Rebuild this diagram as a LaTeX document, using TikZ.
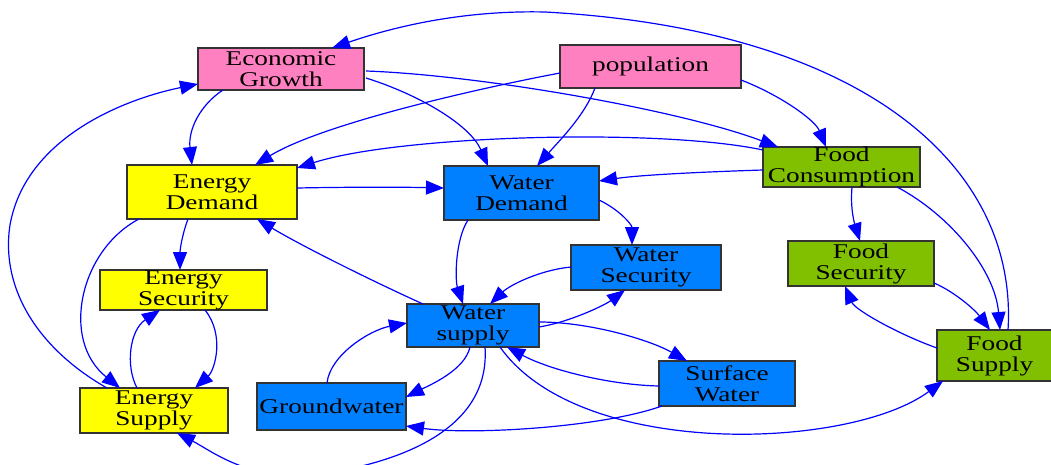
\documentclass[tikz,border=0pt]{standalone}
\usepackage{fontspec}
\setmainfont{Liberation Serif}[FakeStretch=1.3]
\usetikzlibrary{arrows.meta}
\definecolor{pinkc}{HTML}{FF80C0}
\definecolor{yellowc}{HTML}{FFFF00}
\definecolor{bluec}{HTML}{0080FF}
\definecolor{greenc}{HTML}{80C000}
\definecolor{edgec}{HTML}{0000FF}
\definecolor{borderc}{HTML}{333333}
\begin{document}
\begin{tikzpicture}[x=1pt,y=-1pt,
  box/.style={draw=borderc, line width=1.3pt, inner sep=0pt, align=center,
    font=\fontsize{21}{21}\selectfont},
  pinkbox/.style={box, fill=pinkc},
  yellowbox/.style={box, fill=yellowc},
  bluebox/.style={box, fill=bluec},
  greenbox/.style={box, fill=greenc},
  e/.style={draw=edgec, line width=1.2pt, -{Triangle[length=18pt,width=14pt]}}]
\useasboundingbox (0,0) rectangle (1051,465);
\clip (0,0) rectangle (1051,465);

% nodes
\node[pinkbox, minimum width=166pt, minimum height=42pt] (eg) at (281,69) {Economic\\Growth};
\node[pinkbox, minimum width=181pt, minimum height=43pt] (pop) at (650.5,66.5) {population};
\node[yellowbox, minimum width=170pt, minimum height=54pt] (ed) at (212,192) {Energy\\Demand};
\node[bluebox, minimum width=155pt, minimum height=54pt] (wd) at (521.5,193) {Water\\Demand};
\node[greenbox, minimum width=157pt, minimum height=40pt] (fc) at (841.5,167) {Food\\Consumption};
\node[bluebox, minimum width=150pt, minimum height=45pt] (wsec) at (646,267.5) {Water\\Security};
\node[yellowbox, minimum width=167pt, minimum height=40pt] (es) at (183.5,290) {Energy\\Security};
\node[greenbox, minimum width=146pt, minimum height=45pt] (fs) at (861,263.5) {Food\\Security};
\node[bluebox, minimum width=132pt, minimum height=43pt] (ws) at (473,325.5) {Water\\supply};
\node[bluebox, minimum width=149pt, minimum height=47pt] (gw) at (331.5,406.5) {Groundwater};
\node[yellowbox, minimum width=148pt, minimum height=45pt] (esup) at (154,410.5) {Energy\\Supply};
\node[bluebox, minimum width=136pt, minimum height=45pt] (sw) at (727,383.5) {Surface\\Water};
\node[greenbox, minimum width=115pt, minimum height=51pt] (fsup) at (994.5,355.5) {Food\\Supply};

\coordinate (lowA) at (315,475);
\coordinate (topA) at (545,12);
\coordinate (leftA) at (10,225);

% edges
\draw[e] ([shift={(-58,21)}]eg.center) .. controls (200,105) and (188,130) .. ([shift={(-20,-27)}]ed.center);
\draw[e] ([shift={(85,9)}]eg.center) .. controls (420,95) and (470,125) .. ([shift={(-33.5,-27)}]wd.center);
\draw[e] ([shift={(85,2)}]eg.center) .. controls (480,75) and (680,110) .. ([shift={(-63.5,-20)}]fc.center);
\draw[e] ([shift={(-90.5,6.5)}]pop.center) .. controls (470,90) and (320,125) .. ([shift={(43,-27)}]ed.center);
\draw[e] ([shift={(-55.5,21.5)}]pop.center) .. controls (585,115) and (560,140) .. ([shift={(15.5,-27)}]wd.center);
\draw[e] ([shift={(90.5,13.5)}]pop.center) .. controls (780,95) and (815,120) .. ([shift={(-15.5,-20)}]fc.center);
\draw[e] ([shift={(-78.5,-17)}]fc.center) .. controls (660,128) and (400,135) .. ([shift={(85,-24)}]ed.center);
\draw[e] ([shift={(-78.5,3)}]fc.center) .. controls (700,172) and (640,175) .. ([shift={(77.5,-12)}]wd.center);
\draw[e] ([shift={(10.5,20)}]fc.center) .. controls (850,210) and (855,225) .. ([shift={(-1,-22.5)}]fs.center);
\draw[e] ([shift={(55.5,20)}]fc.center) .. controls (950,215) and (995,270) .. ([shift={(5.5,-25.5)}]fsup.center);
\draw[e] ([shift={(85,-4)}]ed.center) .. controls (350,187) and (400,187) .. ([shift={(-77.5,-5)}]wd.center);
\draw[e] ([shift={(-24,27)}]ed.center) .. controls (182,235) and (180,250) .. ([shift={(-3.5,-20)}]es.center);
\draw[e] ([shift={(-73,27)}]ed.center) .. controls (80,250) and (60,340) .. ([shift={(-34,-22.5)}]esup.center);
\draw[e] ([shift={(-50,-21.5)}]ws.center) .. controls (370,280) and (300,245) .. ([shift={(45,27)}]ed.center);
\draw[e] ([shift={(-53.5,27)}]wd.center) .. controls (455,240) and (455,280) .. ([shift={(-10,-21.5)}]ws.center);
\draw[e] ([shift={(77.5,7)}]wd.center) .. controls (620,210) and (632,225) .. ([shift={(-14,-22.5)}]wsec.center);
\draw[e] ([shift={(-75,-0.5)}]wsec.center) .. controls (540,270) and (510,285) .. ([shift={(17,-21.5)}]ws.center);
\draw[e] ([shift={(66,1.5)}]ws.center) .. controls (570,322) and (605,305) .. ([shift={(-21,22.5)}]wsec.center);
\draw[e] ([shift={(66,-3.5)}]ws.center) .. controls (590,322) and (650,340) .. ([shift={(-40,-22.5)}]sw.center);
\draw[e] ([shift={(-68,2.5)}]sw.center) .. controls (610,385) and (550,370) .. ([shift={(34,21.5)}]ws.center);
\draw[e] ([shift={(-3,21.5)}]ws.center) .. controls (465,370) and (430,385) .. ([shift={(74.5,-9.5)}]gw.center);
\draw[e] ([shift={(-4.5,-23.5)}]gw.center) .. controls (330,355) and (370,330) .. ([shift={(-66,-2.5)}]ws.center);
\draw[e] ([shift={(-65,22.5)}]sw.center) .. controls (600,428) and (470,435) .. ([shift={(74.5,19.5)}]gw.center);
\draw[e] ([shift={(12,21.5)}]ws.center) .. controls (490,420) and (420,460) .. (lowA)
   .. controls (250,482) and (210,450) .. ([shift={(23,22.5)}]esup.center);
\draw[e] ([shift={(27,21.5)}]ws.center) .. controls (580,460) and (850,450) .. ([shift={(-51.5,25.5)}]fsup.center);
\draw[e] ([shift={(-57.5,-7.5)}]fsup.center) .. controls (900,335) and (855,310) .. ([shift={(-16,22.5)}]fs.center);
\draw[e] ([shift={(73,19.5)}]fs.center) .. controls (955,292) and (975,310) .. ([shift={(-4.5,-25.5)}]fsup.center);
\draw[e] ([shift={(13.5,-25.5)}]fsup.center) .. controls (1018,170) and (870,30) .. (topA)
   .. controls (460,10) and (390,28) .. ([shift={(51,-21)}]eg.center);
\draw[e] ([shift={(-47,-22.5)}]esup.center) .. controls (40,350) and (0,290) .. (leftA)
   .. controls (25,140) and (120,100) .. ([shift={(-83,15)}]eg.center);
\draw[e] ([shift={(-17,-22.5)}]esup.center) .. controls (125,365) and (130,330) .. ([shift={(-23.5,20)}]es.center);
\draw[e] ([shift={(21.5,20)}]es.center) .. controls (225,335) and (215,370) .. ([shift={(41,-22.5)}]esup.center);
\end{tikzpicture}
\end{document}
